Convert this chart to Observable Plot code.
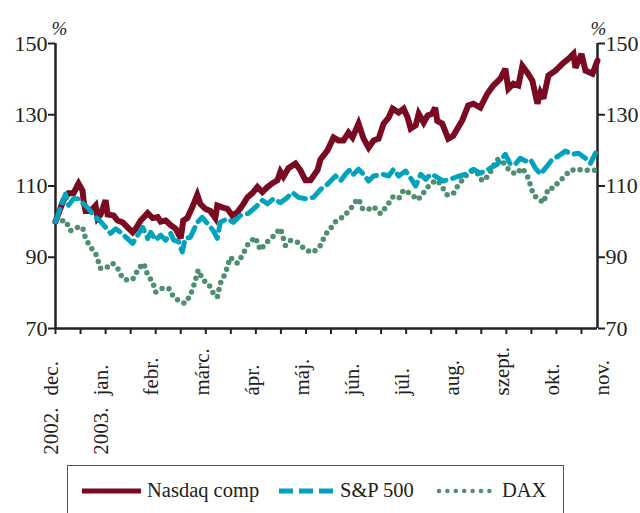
<!DOCTYPE html>
<html>
<head>
<meta charset="utf-8">
<script src="https://cdn.jsdelivr.net/npm/d3@7"></script>
<script src="https://cdn.jsdelivr.net/npm/@observablehq/plot@0.6"></script>
<style>
  body { margin: 0; background: #fff; }
  #wrap { position: relative; width: 640px; height: 513px; overflow: hidden; font-family: "Liberation Serif", "DejaVu Serif", serif; }
  #legend { position: absolute; left: 67px; top: 465px; width: 497px; height: 60px; border: 1.5px solid #555; box-sizing: border-box; }
  .item { position: absolute; top: 13px; display: flex; align-items: center; font-size: 20.5px; color: #222; white-space: nowrap; }
  .item svg { margin-right: 6px; }
</style>
</head>
<body>
<div id="wrap">
  <div id="chart"></div>
  <div id="legend"></div>
</div>
<script>
// ---- Data (x in months since start of Dec 2002, values indexed to 100) ----
const monthNames = ["dec.", "jan.", "febr.", "márc.", "ápr.", "máj.", "jún.", "júl.", "aug.", "szept.", "okt.", "nov."];
const yearNames = ["2002.", "2003."];
const yTicks = [70, 90, 110, 130, 150];
const seriesNames = ["Nasdaq comp", "S&P 500", "DAX"];
const seriesColors = ["#7a0a22", "#00a2bd", "#4f8f6f"];
const xEnd = 10.82;

const nasdaqX = [0,0.16,0.26,0.36,0.46,0.54,0.56,0.60,0.70,0.80,0.84,0.90,1.00,1.04,1.16,1.24,1.34,1.44,1.54,1.60,1.70,1.84,1.94,2.04,2.10,2.20,2.30,2.40,2.50,2.55,2.63,2.73,2.83,2.89,2.99,3.09,3.19,3.23,3.33,3.43,3.53,3.63,3.73,3.83,3.93,4.03,4.13,4.23,4.33,4.43,4.49,4.55,4.65,4.79,4.89,4.99,5.09,5.23,5.29,5.43,5.55,5.65,5.75,5.85,5.93,6.05,6.15,6.25,6.35,6.45,6.55,6.65,6.73,6.85,6.95,7.03,7.09,7.19,7.25,7.35,7.43,7.52,7.58,7.62,7.72,7.84,7.94,8.04,8.12,8.24,8.34,8.48,8.62,8.74,8.88,8.98,9.04,9.14,9.24,9.32,9.42,9.52,9.62,9.68,9.74,9.84,9.98,10.12,10.24,10.34,10.38,10.50,10.58,10.72,10.82];
const nasdaqV = [100,106,108,108,110.7,108.7,106,103,103,104.5,101,102,106,102,101.7,100.3,99.8,98.4,97,98,100.3,102.4,101,101.3,100,100.3,99,98,95.3,100.3,101,104,107.5,105,103.6,103,101,104.5,104,103.6,101.7,102.6,104.5,106.8,108,109.7,108.3,109.7,110.8,111.6,114,112.6,115,116.3,114.4,111.6,111.6,114.4,117.5,120,123.6,122.8,122.8,125,123.6,127.5,123.3,120.8,122.8,123.3,127.5,129.2,131.7,130.6,131.7,129.2,126.1,127,130.3,127.8,129.8,130.3,132,128.3,127.5,123.3,124.1,126.5,128.4,132.6,133.1,132,135.9,138.2,140.1,142.9,137.3,138.7,138.2,143.7,141.8,139.6,133.1,136.2,134.5,141,142.4,144.3,145.7,147.1,143.2,147.1,142.4,141.5,145.2];

const spX = [0,0.20,0.26,0.36,0.46,0.56,0.66,0.80,0.90,1.00,1.10,1.20,1.30,1.40,1.54,1.60,1.74,1.84,1.90,2.00,2.10,2.20,2.30,2.36,2.46,2.53,2.59,2.69,2.73,2.83,2.93,3.03,3.15,3.23,3.29,3.43,3.55,3.69,3.85,3.99,4.13,4.23,4.35,4.49,4.63,4.73,4.85,4.99,5.15,5.29,5.43,5.59,5.69,5.79,5.89,5.95,6.05,6.15,6.25,6.35,6.53,6.65,6.75,6.85,6.99,7.09,7.19,7.29,7.39,7.49,7.58,7.74,7.88,8.02,8.18,8.34,8.48,8.64,8.82,8.98,9.08,9.18,9.28,9.38,9.48,9.58,9.68,9.78,9.92,10.04,10.18,10.32,10.44,10.58,10.68,10.78];
const spV = [100,107.7,104.6,106.4,106.4,105,103.6,101.3,100,98.4,96.7,98,97,95.7,93.9,95.3,98.4,95.3,97,94.8,96.2,94.8,96.7,94.8,94.3,91.5,95.3,95.6,96.7,99.8,101.2,99.5,97.5,95.3,99.8,100.8,99.8,101.7,102.3,104,106,105,106.4,105.3,106.8,108.2,106.8,106.4,106.8,109,110.5,112.8,111.4,113.3,114.7,113.3,114.7,113.3,111.4,112.8,113.3,112.8,114.7,112.8,114.2,112.2,110,113.3,111.9,113.3,112.8,111.4,111.9,112.6,113.3,114.7,113.6,114.7,116.1,118.9,116.1,116.1,117.8,117,117.5,115,113.3,115,117.5,118.4,119.8,118.9,119.2,117.8,116.4,119.2];

const daxX = [0,0.20,0.30,0.44,0.54,0.60,0.70,0.80,0.90,1.00,1.14,1.24,1.34,1.46,1.56,1.66,1.76,1.84,1.94,2.00,2.14,2.26,2.36,2.50,2.59,2.69,2.75,2.85,2.95,3.05,3.15,3.23,3.29,3.39,3.49,3.63,3.73,3.85,3.99,4.09,4.19,4.33,4.49,4.59,4.69,4.83,4.99,5.15,5.29,5.39,5.49,5.59,5.75,5.89,5.99,6.05,6.13,6.23,6.35,6.49,6.63,6.73,6.85,6.95,7.09,7.23,7.33,7.43,7.54,7.62,7.72,7.82,7.94,8.04,8.22,8.34,8.44,8.52,8.64,8.72,8.82,8.92,9.04,9.18,9.32,9.42,9.48,9.54,9.64,9.74,9.84,9.94,10.04,10.14,10.28,10.42,10.54,10.68,10.78];
const daxV = [100,100.3,97.5,98.4,98.4,95.3,92.8,91.1,86.9,86.9,88.3,86.9,84.1,83.5,84.1,86.9,88.3,85,83,80.2,81.3,81.3,78.8,77.4,77.1,79.3,81.6,86.4,83.5,82.7,79.9,78.8,82.7,85.5,90,88.3,90.5,93.9,95.6,92,93.9,95.6,98.1,93.3,94.7,94.2,92,91.4,93.3,96.4,98.1,100,101.4,103.6,105.6,106.4,103.6,103.3,104.2,102.2,104.7,106.9,106.4,108.9,107.8,106.1,107.8,109.7,111.1,111.6,109.7,107.5,107.8,110.3,113.3,114.4,113.3,111.4,112.8,115,117.5,117,114.7,113.3,115,112.8,110.3,107.5,106.4,105.3,109.4,109.4,111.1,112.4,114.4,114.7,114.4,114.4,114.4];

// ---- Build tables ----
const rows = (xs, vs, s) => xs.map((x, i) => ({x, v: vs[i], s}));
const nasdaq = rows(nasdaqX, nasdaqV, seriesNames[0]);
const sp = rows(spX, spV, seriesNames[1]);
const dax = rows(daxX, daxV, seriesNames[2]);

const halfTicks = d3.range(0, Math.floor(xEnd * 2) + 1).map(k => k / 2);
const monthLabels = monthNames.map((m, i) => ({i, m}));
const yearLabels = yearNames.map((y, i) => ({i, y}));

const FONT = "Liberation Serif";
const axisColor = "#222";

const chart = Plot.plot({
  width: 640,
  height: 455,
  marginLeft: 55,
  marginRight: 43,
  marginTop: 43,
  marginBottom: 127,
  style: {fontFamily: FONT, fontSize: "22px", color: axisColor, background: "transparent"},
  x: {domain: [0, xEnd]},
  y: {domain: [70, 150]},
  marks: [
    Plot.axisX({ticks: halfTicks, tickSize: 6, strokeWidth: 2, tickFormat: () => "", label: null}),
    Plot.axisY({anchor: "left", ticks: yTicks, tickSize: 7, tickPadding: 1, strokeWidth: 2, label: null, fontSize: 22}),
    Plot.axisY({anchor: "right", ticks: yTicks, tickSize: 7, tickPadding: 1, strokeWidth: 2, label: null, fontSize: 22}),
    Plot.ruleX([0, xEnd], {stroke: axisColor, strokeWidth: 2.5}),
    Plot.ruleY([70], {stroke: axisColor, strokeWidth: 2.5}),
    Plot.line(dax, {x: "x", y: "v", stroke: seriesColors[2], strokeWidth: 5.5, strokeDasharray: "0,7.2", strokeLinecap: "round"}),
    Plot.line(nasdaq, {x: "x", y: "v", stroke: seriesColors[0], strokeWidth: 6, strokeLinejoin: "miter", strokeMiterlimit: 3}),
    Plot.line(sp, {x: "x", y: "v", stroke: seriesColors[1], strokeWidth: 5, strokeDasharray: "13,7"}),
    Plot.text(monthLabels, {x: "i", text: "m", frameAnchor: "bottom", dy: 67, dx: -4, rotate: -90, textAnchor: "start", lineAnchor: "middle", fontSize: 21, fill: axisColor}),
    Plot.text(yearLabels, {x: "i", text: "y", frameAnchor: "bottom", dy: 79, dx: -4, rotate: -90, textAnchor: "end", lineAnchor: "middle", fontSize: 21, fill: axisColor}),
    Plot.text(["%"], {frameAnchor: "top-left", dy: -22, dx: 4, textAnchor: "middle", fontSize: 19, fontStyle: "italic", fill: axisColor}),
    Plot.text(["%"], {frameAnchor: "top-right", dy: -22, dx: 1, textAnchor: "middle", fontSize: 19, fontStyle: "italic", fill: axisColor})
  ]
});
document.getElementById("chart").appendChild(chart);

// ---- Legend ----
const legend = document.getElementById("legend");
const legendLefts = [14, 211, 369];
const swatchW = [59, 55, 59];
seriesNames.forEach((name, i) => {
  const item = document.createElement("div");
  item.className = "item";
  item.style.left = legendLefts[i] + "px";
  const w = swatchW[i];
  let dash = "";
  if (i === 1) dash = 'stroke-dasharray="14,6"';
  if (i === 2) dash = 'stroke-dasharray="0,8.4" stroke-linecap="round"';
  const sw = i === 0 ? 5 : (i === 1 ? 5 : 4.5);
  item.innerHTML = `<svg width="${w}" height="12"><line x1="${i === 2 ? 2 : 0}" y1="6" x2="${w}" y2="6" stroke="${seriesColors[i]}" stroke-width="${sw}" ${dash}/></svg><span>${name}</span>`;
  legend.appendChild(item);
});
</script>
</body>
</html>
